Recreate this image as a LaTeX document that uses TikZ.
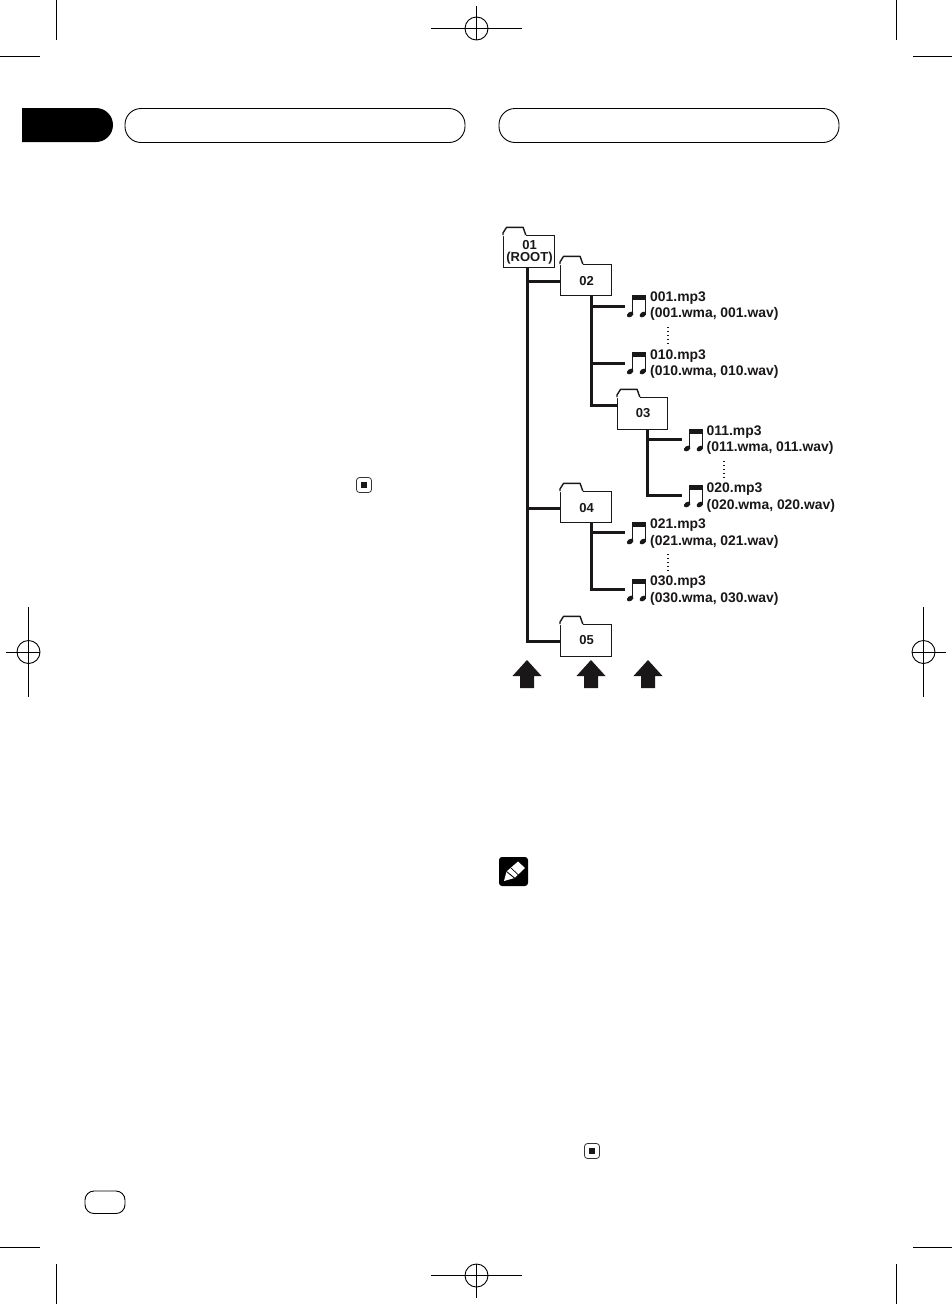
\documentclass[tikz,border=0pt]{standalone}
\usepackage{fontspec}
\setmainfont{Liberation Sans}
\usetikzlibrary{calc}
\definecolor{ink}{HTML}{1A1718}
\tikzset{
  crop/.style={line width=0.9pt,draw=black},
  pill/.style={line width=0.9pt,draw=black,rounded corners=16pt},
  conn/.style={line width=3pt,draw=ink,line cap=butt,line join=miter},
  folderbody/.style={draw=ink,fill=white,line width=1.4pt,inner sep=0pt},
  foldertext/.style={inner sep=0pt,font=\bfseries\fontsize{13}{12}\selectfont,align=center,text=ink},
  foldertab/.style={draw=ink,line width=1.4pt,line join=round},
  lbl/.style={inner sep=0pt,align=left,anchor=west,font=\bfseries\fontsize{13.9}{16.8}\selectfont,text=ink},
  vdots/.style={line width=1.4pt,draw=ink,dash pattern=on 1.4pt off 2.5pt},
  stopbox/.style={line width=0.8pt,draw=black!80,rounded corners=3pt,minimum size=15pt,inner sep=0pt},
  bigarrow/.style={fill=ink,draw=none}
}
% #1 name, #2 x-left, #3 body top, #4 width, #5 body height, #6 text, #7 text centre y
\newcommand{\folderat}[7]{%
  \node[folderbody,minimum width=#4pt,minimum height=#5pt,anchor=north west] (#1) at (#2,#3) {};
  \fill[white] (#2,#3) -- ++(0,-2) -- ++(3.5,-5.6) -- ++(16.6,0) -- ++(2.7,7.6) -- ++(0,1.1) -- ++(-22.8,0) -- cycle;
  \draw[foldertab] (#2,#3) -- ++(0,-2) -- ++(3.5,-5.6) -- ++(16.6,0) -- ++(2.7,7.6);
  \node[foldertext] (#1t) at ($(#1.center |- 0,#7)+(0.3,0)$) {#6};
}
% #1 name, #2 x, #3 y of the top of the icon
\newcommand{\noteat}[3]{%
  \node[inner sep=0pt,minimum width=22pt,minimum height=22pt,anchor=north west] (#1) at ($(#2,#3)+(-2,0)$) {};
  \begin{scope}[shift={(#2,#3)}]
    \fill[ink] (5.0,0) rectangle (19,5);
    \fill[ink] (5.0,0) rectangle (6.3,20);
    \fill[ink] (17.7,0) rectangle (19,20);
    \fill[ink,rotate around={35:(3.2,19.5)}] (3.2,19.5) ellipse [x radius=3.6pt,y radius=2.4pt];
    \fill[ink,rotate around={35:(15.9,19.5)}] (15.9,19.5) ellipse [x radius=3.6pt,y radius=2.4pt];
  \end{scope}
}
\newcommand{\bigup}[1]{%
  \fill[bigarrow] (#1,660) -- ++(14.5,16) -- ++(-7.5,0) -- ++(0,12) -- ++(-14,0) -- ++(0,-12) -- ++(-7.5,0) -- cycle;
}
\begin{document}
\begin{tikzpicture}[x=1pt,y=-1pt]
\useasboundingbox (0,0) rectangle (952,1304);
\fill[white] (0,0) rectangle (952,1304);
% crop marks
\draw[crop] (56.3,0) -- (56.3,40);
\draw[crop] (0,56.5) -- (40,56.5);
\draw[crop] (896.3,0) -- (896.3,40);
\draw[crop] (913,56.5) -- (952,56.5);
\draw[crop] (56.3,1264) -- (56.3,1304);
\draw[crop] (0,1247.3) -- (40,1247.3);
\draw[crop] (896.3,1264) -- (896.3,1304);
\draw[crop] (913,1247.3) -- (952,1247.3);
% registration marks
\draw[crop] (476.5,28.5) circle [radius=11.5pt];
\draw[crop] (431,28.5) -- (522,28.5);
\draw[crop] (476.5,6) -- (476.5,40);
\draw[crop] (476.5,1275.5) circle [radius=11.5pt];
\draw[crop] (431,1275.5) -- (522,1275.5);
\draw[crop] (476.5,1264) -- (476.5,1298);
\draw[crop] (28.5,652) circle [radius=11.5pt];
\draw[crop] (6,652) -- (40,652);
\draw[crop] (28.5,607) -- (28.5,697);
\draw[crop] (923.5,652) circle [radius=11.5pt];
\draw[crop] (912,652) -- (946,652);
\draw[crop] (923.5,607) -- (923.5,697);
% header
\fill[black] (22,108) -- (96,108) arc [start angle=90,end angle=-90,radius=17pt] -- (22,142) -- cycle;
\draw[pill] (125,108.5) rectangle (465,142.5);
\draw[pill] (499,108.5) rectangle (839,142.5);
% footer tab
\draw[line width=0.9pt,draw=black,rounded corners=9pt] (85,1191) rectangle (125,1213.5);
% end marks
\node[stopbox] (stopA) at (364,485) {};
\fill[ink] (361,482) rectangle (367,488);
\node[stopbox] (stopB) at (592,1151) {};
\fill[ink] (589,1148) rectangle (595,1154);
% pencil
\fill[black,rounded corners=3pt] (499,857) rectangle (528,886);
\fill[white] (504,881) -- (506.5,871.5) -- (518,861.5) -- (525,868) -- (514.5,878) -- cycle;
\draw[black,line width=0.9pt] (506.5,871.5) -- (514.5,878);
\draw[black,line width=0.7pt] (511,868) -- (518,874.5);
% trunk junctions
\coordinate (r0) at (527,300);
\coordinate (a0) at (591,300);
\coordinate (b0) at (647.5,300);
\coordinate (c0) at (591,530);
\folderat{f01}{503}{235}{51}{32}{01\\[0pt](ROOT)}{252}
\folderat{f02}{560}{264}{51}{31}{02}{281}
\folderat{f03}{617}{397}{50}{32}{03}{413}
\folderat{f04}{560}{491}{51}{31}{04}{507.7}
\folderat{f05}{560}{624}{51}{32}{05}{640}
\noteat{n001}{627}{295}
\noteat{n010}{627}{352}
\noteat{n011}{684}{429}
\noteat{n020}{684}{485}
\noteat{n021}{627}{522}
\noteat{n030}{627}{579}
% connectors
\draw[conn] (f01.south -| r0) |- (f05.west |- 0,641.7);
\draw[conn] (r0 |- 0,281.3) -- (f02.west |- 0,281.3);
\draw[conn] (r0 |- 0,508.7) -- (f04.west |- 0,508.7);
\draw[conn] (f02.south -| a0) |- (f03.west |- 0,405);
\draw[conn] (a0 |- 0,306) -- (n001.west |- 0,306);
\draw[conn] (a0 |- 0,363) -- (n010.west |- 0,363);
\draw[conn] (f03.south -| b0) |- (n020.west |- 0,495);
\draw[conn] (b0 |- 0,439) -- (n011.west |- 0,439);
\draw[conn] (f04.south -| c0) |- (n030.west |- 0,589);
\draw[conn] (c0 |- 0,532) -- (n021.west |- 0,532);
% labels
\node[lbl] (t001) at (650,306) {001.mp3\\(001.wma, 001.wav)};
\node[lbl] (t010) at (650,364) {010.mp3\\(010.wma, 010.wav)};
\node[lbl] (t011) at (706.5,440) {011.mp3\\(011.wma, 011.wav)};
\node[lbl] (t020) at (706.5,497.5) {020.mp3\\(020.wma, 020.wav)};
\node[lbl] (t021) at (650,533.5) {021.mp3\\(021.wma, 021.wav)};
\node[lbl] (t030) at (650,590.5) {030.mp3\\(030.wma, 030.wav)};
% ellipsis dots
\draw[vdots] (668,327) -- (668,344);
\draw[vdots] (724,461) -- (724,477);
\draw[vdots] (668,554) -- (668,571);
% arrows
\bigup{527}
\bigup{591}
\bigup{648}
\end{tikzpicture}
\end{document}
